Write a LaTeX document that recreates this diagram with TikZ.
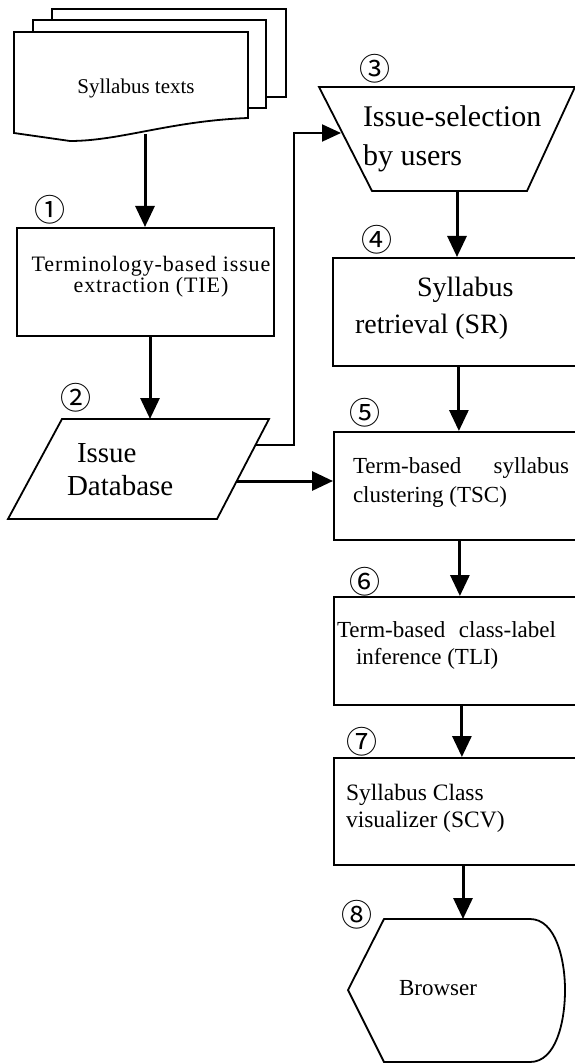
\documentclass[tikz,border=0pt]{standalone}
\usepackage{fontspec}
\setmainfont{Liberation Serif}
\newfontfamily\cjk{Noto Sans CJK JP}
\newfontfamily\widefont[LetterSpace=4]{Liberation Serif}
\usetikzlibrary{arrows.meta,calc}
\newcommand\myfs[2]{\fontsize{#1}{#2}\selectfont}
\tikzset{
  shapeline/.style={draw=black, line width=1.8pt, fill=white, line join=miter},
  box/.style={draw=black, line width=1.8pt, rectangle, inner sep=0pt, anchor=north west},
  arr/.style={line width=3pt, -{Triangle[width=19pt,length=21pt]}},
  thinarr/.style={line width=2pt, -{Triangle[width=17pt,length=19pt]}},
  txt/.style={inner sep=0pt, outer sep=0pt},
  num/.style={inner sep=0pt, font=\cjk\myfs{31}{31}}
}
\begin{document}
\begin{tikzpicture}[x=1pt,y=-1pt]
\fill[white] (0,0) rectangle (574,1064);
\useasboundingbox (0,0) rectangle (574,1064);

% stacked syllabus pages
\draw[shapeline] (52,9) rectangle (286,97);
\draw[shapeline] (33,20) rectangle (266,108);
\draw[shapeline] (14,32) -- (248,32) -- (248,118)
   .. controls (170,121) and (120,141) .. (70,141)
   -- (14,133) -- cycle;
\node[txt, font=\myfs{21}{25}] (doctxt) at (136,88) {Syllabus texts};
\coordinate (docB) at (145,134);

% box 1
\node[box, minimum width=257pt, minimum height=108pt] (tie) at (16,227) {};
\node[txt, align=center, font=\widefont\myfs{22}{20}] (tietxt) at (151,277) {Terminology-based issue\\extraction (TIE)};
\node[num] (n1) at (50,210) {①};

% issue database
\draw[shapeline] (62,419) -- (269,419) -- (217,519) -- (8,519) -- cycle;
\node[txt, align=left, anchor=west, font=\myfs{29}{33}] (dbtxt) at (67,470) {\hspace*{10pt}Issue\\Database};
\node[num] (n2) at (76,398) {②};
\coordinate (paraT) at (150,419);
\coordinate (paraR1) at (255.5,445);
\coordinate (paraR2) at (237,481);

% issue selection trapezoid
\draw[shapeline] (319,87) -- (575,87) -- (527,191) -- (372,191) -- cycle;
\node[txt, align=left, anchor=west, font=\myfs{30}{39}] (seltxt) at (363,139) {Issue-selection\\by users};
\node[num] (n3) at (375,69) {③};
\coordinate (trapL) at (341,133);
\coordinate (trapB) at (457,191);

% box 4
\node[box, minimum width=244pt, minimum height=108pt] (sr) at (332,257) {};
\node[txt, align=left, anchor=west, font=\myfs{28}{37}] (srtxt) at (355,308) {\hspace*{62pt}Syllabus\\retrieval (SR)};
\node[num] (n4) at (377,240) {④};

% box 5
\node[box, minimum width=243pt, minimum height=108pt] (tsc) at (333,431) {};
\node[txt, align=left, anchor=west, font=\myfs{23}{29}] (tsctxt) at (353,482) {\makebox[216pt][l]{Term-based\hfill syllabus}\\clustering (TSC)};
\node[num] (n5) at (365,413) {⑤};

% box 6
\node[box, minimum width=243pt, minimum height=108pt] (tli) at (333,596) {};
\node[txt, align=left, anchor=west, font=\myfs{23}{27}] (tlitxt) at (337,645) {\makebox[219pt][l]{Term-based\hfill class-label}\\\hspace*{19pt}inference (TLI)};
\node[num] (n6) at (365,582) {⑥};

% box 7
\node[box, minimum width=243pt, minimum height=107pt] (scv) at (333,757) {};
\node[txt, align=left, anchor=west, font=\myfs{23.5}{27}] (scvtxt) at (346,808) {Syllabus Class\\visualizer (SCV)};
\node[num] (n7) at (362,742) {⑦};

% browser
\draw[shapeline] (384,919) -- (530,919)
   .. controls (556,919) and (565,960) .. (565,990)
   .. controls (565,1022) and (556,1062) .. (530,1062)
   -- (384,1062) -- (348,990) -- cycle;
\node[txt, font=\myfs{23}{27}] (brtxt) at (438,988) {Browser};
\node[num] (n8) at (357,915) {⑧};
\coordinate (brT) at (463,919);

% connectors
\draw[arr] (docB) -- (docB |- tie.north);
\draw[arr] (paraT |- tie.south) -- (paraT);
\draw[thinarr] (paraR1) -- ++(38,0) |- (trapL);
\draw[arr] (paraR2) -- (paraR2 -| tsc.west);
\draw[arr] (trapB) -- (trapB |- sr.north);
\draw[arr] ([xshift=4pt]sr.south) -- ([xshift=4pt]sr.south |- tsc.north);
\draw[arr] ([xshift=4.5pt]tsc.south) -- ([xshift=4.5pt]tsc.south |- tli.north);
\draw[arr] ([xshift=6.5pt]tli.south) -- ([xshift=6.5pt]tli.south |- scv.north);
\draw[arr] (brT |- scv.south) -- (brT);
\end{tikzpicture}
\end{document}
